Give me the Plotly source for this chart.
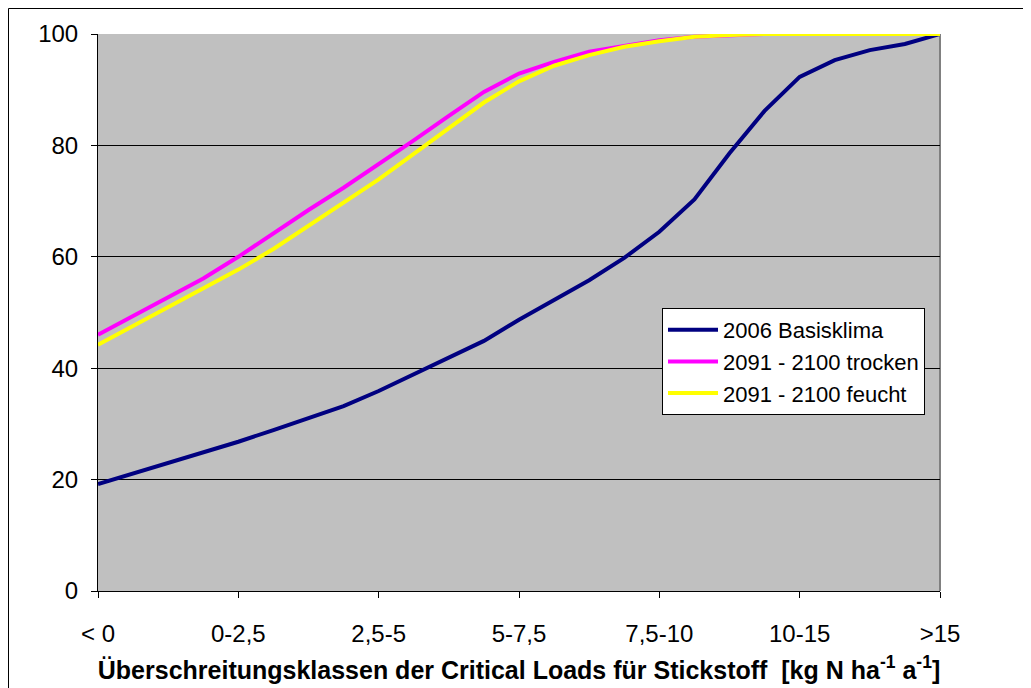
import plotly.graph_objects as go

# Category labels of the exceedance classes (kg N ha-1 a-1)
tick_labels = ["< 0", "0-2,5", "2,5-5", "5-7,5", "7,5-10", "10-15", ">15"]
tick_positions = [0, 1, 2, 3, 4, 5, 6]

# Sample positions along the class axis (4 samples per class interval)
x_steps = [0, 0.25, 0.5, 0.75, 1, 1.25, 1.5, 1.75, 2, 2.25, 2.5, 2.75, 3,
           3.25, 3.5, 3.75, 4, 4.25, 4.5, 4.75, 5, 5.25, 5.5, 5.75, 6]

# Cumulative share (%)
basis_2006 = [19.2, 21.1, 23.0, 24.9, 26.8, 28.9, 31.1, 33.2, 35.9, 38.9, 41.9, 44.9, 48.7,
              52.2, 55.8, 59.8, 64.5, 70.3, 78.6, 86.2, 92.3, 95.3, 97.1, 98.2, 100.0]
trocken_2100 = [46.0, 49.3, 52.7, 56.1, 60.0, 64.3, 68.4, 72.4, 76.6, 80.9, 85.3, 89.6, 92.9,
                95.0, 96.8, 97.9, 98.9, 99.5, 99.8, 100.0, 100.0, 100.0, 100.0, 100.0, 100.0]
feucht_2100 = [44.2, 47.6, 51.0, 54.5, 57.7, 61.4, 65.5, 69.7, 73.9, 78.5, 83.1, 87.7, 91.5,
               94.3, 96.2, 97.7, 98.7, 99.5, 99.8, 100.0, 100.0, 100.0, 100.0, 100.0, 100.0]

series_names = ["2006 Basisklima", "2091 - 2100 trocken", "2091 - 2100 feucht"]
series_values = [basis_2006, trocken_2100, feucht_2100]
series_colors = ["#000080", "#FF00FF", "#FFFF00"]

y_ticks = [0, 20, 40, 60, 80, 100]

FONT = "Liberation Sans, Arial, sans-serif"

fig = go.Figure()
for name, vals, col in zip(series_names, series_values, series_colors):
    fig.add_trace(go.Scatter(
        x=x_steps, y=vals, mode="lines", name=name,
        line=dict(color=col, width=4),
        cliponaxis=False,
    ))

# page has an 8px body margin; figure is placed at (8, 8)
OFF = 8
W, H = 1031 - OFF, 688 - OFF
L, T = 98 - OFF, 34 - OFF
R = W - (940 - OFF)
B = H - (591 - OFF)
pw, ph = W - L - R, H - T - B


def px_x(p):
    return (p - OFF - L) / pw


def px_y(p):
    return (H - B - (p - OFF)) / ph


fig.update_layout(
    width=W, height=H,
    margin=dict(l=L, r=R, t=T, b=B, autoexpand=False),
    paper_bgcolor="white",
    plot_bgcolor="#C0C0C0",
    font=dict(family=FONT, size=24, color="black"),
    showlegend=True,
    legend=dict(
        x=px_x(662), y=px_y(308), xanchor="left", yanchor="top",
        bgcolor="white", bordercolor="black", borderwidth=1,
        font=dict(family=FONT, size=22, color="black"),
        itemwidth=50, tracegroupgap=0,
    ),
    xaxis=dict(
        range=[0, 6], tickmode="array", tickvals=tick_positions, ticktext=tick_labels,
        showgrid=False, zeroline=False, automargin=False,
        showline=True, linecolor="black", linewidth=1,
        ticks="outside", ticklen=6, tickcolor="black",
        ticklabelstandoff=15,
        tickfont=dict(family=FONT, size=24),
        title=dict(
            text="Überschreitungsklassen der Critical Loads für Stickstoff  [kg N ha<sup>-1</sup> a<sup>-1</sup>]",
            font=dict(family=FONT, size=25, color="black", weight="bold"),
            standoff=15,
        ),
    ),
    yaxis=dict(
        range=[0, 100], tickmode="array", tickvals=y_ticks,
        showgrid=True, gridcolor="black", gridwidth=1, zeroline=False, automargin=False,
        showline=True, linecolor="black", linewidth=1,
        ticks="outside", ticklen=6, tickcolor="black",
        ticklabelstandoff=8,
        tickfont=dict(family=FONT, size=24),
    ),
    shapes=[
        # right edge of the plot area (grey)
        dict(type="line", xref="paper", yref="paper", x0=1, x1=1, y0=0, y1=1,
             line=dict(color="#808080", width=2), layer="below"),
        # outer chart frame
        dict(type="rect", xref="paper", yref="paper",
             x0=px_x(8.5), x1=px_x(1045), y0=px_y(8.5), y1=px_y(705),
             line=dict(color="black", width=1)),
    ],
)

fig.write_html("out.html", config={"displayModeBar": False})
